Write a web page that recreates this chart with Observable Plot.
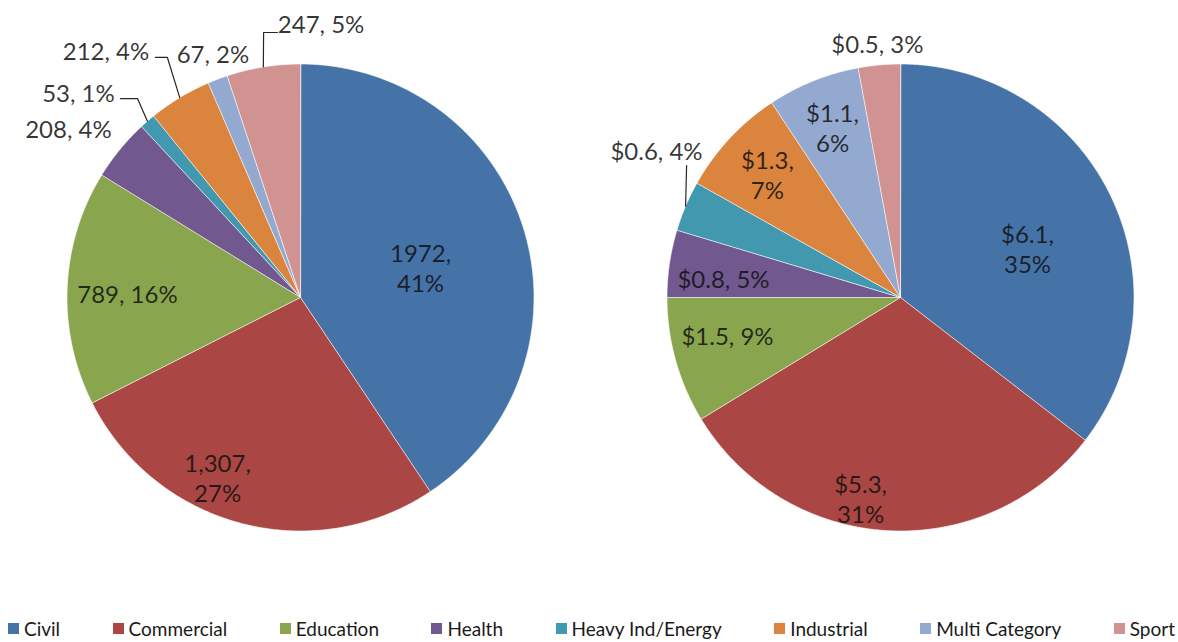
<!DOCTYPE html>
<html>
<head>
<meta charset="utf-8">
<script src="https://cdn.jsdelivr.net/npm/d3@7"></script>
<script src="https://cdn.jsdelivr.net/npm/@observablehq/plot@0.6"></script>
<style>
  body { margin: 0; background: #fff; font-family: Lato, "Open Sans", sans-serif; }
  #chart svg { display: block; }
  #legend { display: flex; justify-content: space-between; align-items: center;
            height: 28px; margin-top: 14px; padding: 0 3px 0 8px; font-size: 19px; color: #1a1a1a; }
  #legend .item { display: flex; align-items: center; white-space: nowrap; }
  #legend .sw { width: 11px; height: 11px; margin-right: 5px; display: inline-block; }
</style>
</head>
<body>
<div id="chart"></div>
<div id="legend"></div>
<script>
// ---------- data ----------
const categories = ["Civil", "Commercial", "Education", "Health", "Heavy Ind/Energy", "Industrial", "Multi Category", "Sport"];
const colors = ["#4572A7", "#AA4643", "#89A54E", "#71588F", "#4198AF", "#DB843D", "#93A9CF", "#D19392"];

// left pie: project counts
const countValues   = [1972, 1307, 789, 208, 53, 212, 67, 247];
const countText     = ["1972", "1,307", "789", "208", "53", "212", "67", "247"];
const countPercents = [41, 27, 16, 4, 1, 4, 2, 5];

// right pie: value in $ billions
const valueBillions = [6.1, 5.3, 1.5, 0.8, 0.6, 1.3, 1.1, 0.5];
const valuePercents = [35, 31, 9, 5, 4, 7, 6, 3];

// ---------- label layout (offsets from pie centre, in pie radii; y up) ----------
const leftLayout = [
  {dx: 0.514, dy: 0.128, wrap: true},
  {dx: -0.355, dy: -0.771, wrap: true},
  {dx: -0.741, dy: 0.017},
  {dx: -0.994, dy: 0.724},
  {dx: -0.951, dy: 0.878, leader: [[-0.698, 0.852], [-0.771, 0.852]]},
  {dx: -0.833, dy: 1.058, leader: [[-0.570, 1.028], [-0.621, 1.028]]},
  {dx: -0.375, dy: 1.045},
  {dx: 0.088, dy: 1.173, leader: [[-0.158, 1.135], [-0.099, 1.135]]}
];
const rightLayout = [
  {dx: 0.544, dy: 0.210, wrap: true},
  {dx: -0.171, dy: -0.861, wrap: true},
  {dx: -0.741, dy: -0.163},
  {dx: -0.758, dy: 0.081},
  {dx: -1.045, dy: 0.630, leader: [[-0.916, 0.565]]},
  {dx: -0.570, dy: 0.527, wrap: true},
  {dx: -0.291, dy: 0.728, wrap: true},
  {dx: -0.099, dy: 1.088}
];

// ---------- geometry ----------
const W = 1178, H = 600;
const R = 233.5;                 // pie radius in px
const pieCX = [0, 600 / R];      // pie centres in radius units
const rad = Math.PI / 180;

const pies = [
  {values: countValues, text: countValues.map((v, i) => `${countText[i]}, ${countPercents[i]}%`), layout: leftLayout},
  {values: valueBillions, text: valueBillions.map((v, i) => `$${d3.format(".1f")(v)}, ${valuePercents[i]}%`), layout: rightLayout}
];

const slices = [], labels = [], leaders = [];
pies.forEach((p, pi) => {
  const total = d3.sum(p.values);
  let acc = 0;
  p.values.forEach((v, i) => {
    const a0 = acc / total * 360, a1 = (acc + v) / total * 360;
    acc += v;
    const key = pi + "-" + i;
    const n = Math.max(2, Math.ceil((a1 - a0) / 0.5));
    slices.push({key, cat: categories[i], x: pieCX[pi], y: 0});
    for (let j = 0; j <= n; j++) {
      const a = (a0 + (a1 - a0) * j / n) * rad;
      slices.push({key, cat: categories[i], x: pieCX[pi] + Math.sin(a), y: Math.cos(a)});
    }
    const L = p.layout[i];
    labels.push({text: L.wrap ? p.text[i].replace(", ", ",\n") : p.text[i], x: pieCX[pi] + L.dx, y: L.dy});
    if (L.leader) {
      const am = (a0 + a1) / 2 * rad;
      [[Math.sin(am), Math.cos(am)], ...L.leader].forEach(([x, y]) => leaders.push({key, x: pieCX[pi] + x, y}));
    }
  });
});

const chart = Plot.plot({
  width: W, height: H, margin: 0,
  x: {domain: [-300 / R, (W - 300) / R], axis: null},
  y: {domain: [-(H - 297) / R, 297 / R], axis: null},
  color: {domain: categories, range: colors},
  style: {fontFamily: "Lato, 'Open Sans', sans-serif", background: "white"},
  marks: [
    Plot.line(slices, {x: "x", y: "y", z: "key", fill: "cat", stroke: "white", strokeWidth: 1, strokeOpacity: 0.6, curve: "linear-closed"}),
    Plot.line(leaders, {x: "x", y: "y", z: "key", stroke: "#262626", strokeWidth: 1.2}),
    Plot.text(labels, {x: "x", y: "y", text: "text", fontSize: 24, lineHeight: 1.25, fill: "#111", fillOpacity: 0.85})
  ]
});
document.getElementById("chart").append(chart);

// ---------- legend ----------
const legend = d3.select("#legend");
categories.forEach((c, i) => {
  const item = legend.append("div").attr("class", "item");
  item.append("span").attr("class", "sw").style("background", colors[i]);
  item.append("span").text(c);
});
</script>
</body>
</html>
